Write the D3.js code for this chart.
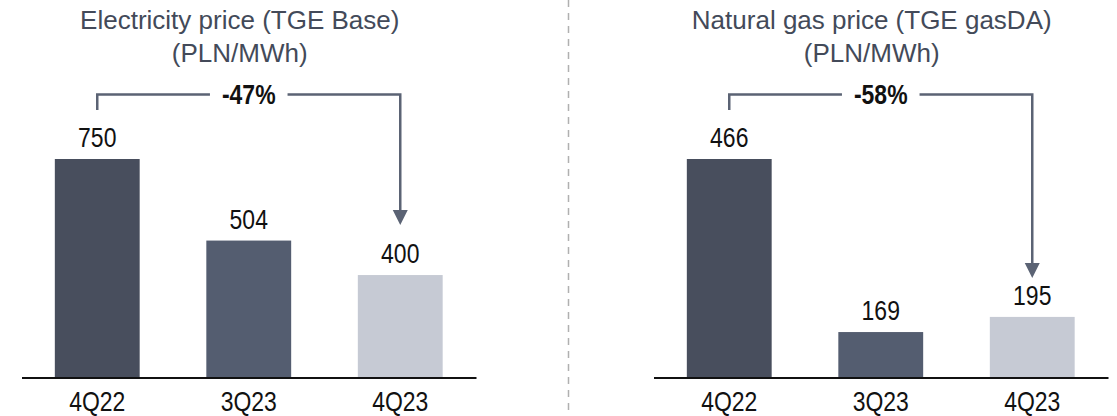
<!DOCTYPE html>
<html>
<head>
<meta charset="utf-8">
<script src="https://cdn.jsdelivr.net/npm/d3@7"></script>
<style>
  body { margin: 0; background: #fff; }
  svg { display: block; }
</style>
</head>
<body>
<div id="chart"></div>
<script>
"use strict";

// == DATA ==
var categories = ["4Q22", "3Q23", "4Q23"];
var electricity = [750, 504, 400];
var gas = [466, 169, 195];
var titles = [
  ["Electricity price (TGE Base)", "(PLN/MWh)"],
  ["Natural gas price (TGE gasDA)", "(PLN/MWh)"]
];
var changes = ["-47%", "-58%"];

// == BOILERPLATE ==
var width = 1117, height = 416;
var barColors = ["#484e5d", "#545d70", "#c6cad4"];
var lineColor = "#5b6374";
var sans = "'Liberation Sans', Arial, sans-serif";
var squeeze = 0.82; // fake an Arial Narrow look

var svg = d3.select("#chart")
  .append("svg")
  .attr("width", width)
  .attr("height", height);

// dashed divider between panels
svg.append("line")
  .attr("x1", 568.5).attr("x2", 568.5)
  .attr("y1", 0).attr("y2", height)
  .attr("stroke", "#b0b0b0")
  .attr("stroke-width", 1.5)
  .attr("stroke-dasharray", "7,6");

function narrowText(sel) {
  sel.attr("font-family", sans)
    .attr("font-size", 28)
    .attr("fill", "#111")
    .attr("text-anchor", "middle");
}

function drawPanel(left, values, title, change, arrowGap) {
  var g = svg.append("g").attr("transform", "translate(" + left + ",0)");

  var x = d3.scaleBand()
    .domain(categories)
    .range([21.5, 476])
    .paddingInner(0.44)
    .paddingOuter(0.22);

  var y = d3.scaleLinear()
    .domain([91, d3.max(values)])
    .range([377.5, 159]);

  var cx = function (c) { return x(c) + x.bandwidth() / 2; };
  var mid = (x.range()[0] + x.range()[1]) / 2;

  // title
  var t = g.append("text")
    .attr("text-anchor", "middle")
    .attr("font-family", sans)
    .attr("font-size", 26)
    .attr("fill", "#434a59");
  title.forEach(function (line, i) {
    t.append("tspan").attr("x", mid - 9).attr("y", 29 + i * 33).text(line);
  });

  // bars
  g.selectAll("rect.bar")
    .data(values)
    .enter()
    .append("rect")
    .attr("class", "bar")
    .attr("x", function (d, i) { return x(categories[i]); })
    .attr("y", function (d) { return y(d); })
    .attr("width", x.bandwidth())
    .attr("height", function (d) { return y.range()[0] - y(d); })
    .attr("fill", function (d, i) { return barColors[i]; });

  // value labels
  g.selectAll("text.val")
    .data(values)
    .enter()
    .append("text")
    .attr("class", "val")
    .attr("transform", function (d, i) {
      return "translate(" + cx(categories[i]) + "," + (y(d) - 12) + ") scale(" + squeeze + ",1)";
    })
    .call(narrowText)
    .text(function (d) { return d; });

  // x axis
  var axis = g.append("g")
    .attr("transform", "translate(0," + y.range()[0] + ")")
    .call(d3.axisBottom(x).tickSize(0).tickPadding(14));
  axis.select(".domain").attr("stroke", "#111").attr("stroke-width", 2);
  axis.selectAll(".tick text")
    .call(narrowText)
    .attr("transform", "scale(" + squeeze + ",1)");

  // change bracket
  var x0 = cx(categories[0]), x2 = cx(categories[2]), xm = cx(categories[1]);
  var by = 94.5;
  var tipY = y(values[2]) - arrowGap;
  var lbl = g.append("text")
    .attr("transform", "translate(" + xm + "," + by + ") scale(" + squeeze + ",1)")
    .attr("dy", "0.35em")
    .call(narrowText)
    .attr("font-weight", "bold")
    .text(change);
  var half = lbl.node().getComputedTextLength() * squeeze / 2 + 12;

  g.append("path")
    .attr("d", "M" + x0 + "," + 110 + "V" + by + "H" + (xm - half))
    .attr("fill", "none")
    .attr("stroke", lineColor)
    .attr("stroke-width", 2.5);
  g.append("path")
    .attr("d", "M" + (xm + half) + "," + by + "H" + x2 + "V" + (tipY - 14))
    .attr("fill", "none")
    .attr("stroke", lineColor)
    .attr("stroke-width", 2.5);
  g.append("path")
    .attr("d", "M" + (x2 - 7.5) + "," + (tipY - 15) + "L" + (x2 + 7.5) + "," + (tipY - 15) + "L" + x2 + "," + tipY + "Z")
    .attr("fill", lineColor);
}

drawPanel(0, electricity, titles[0], changes[0], 50);
drawPanel(632, gas, titles[1], changes[1], 39);
</script>
</body>
</html>
